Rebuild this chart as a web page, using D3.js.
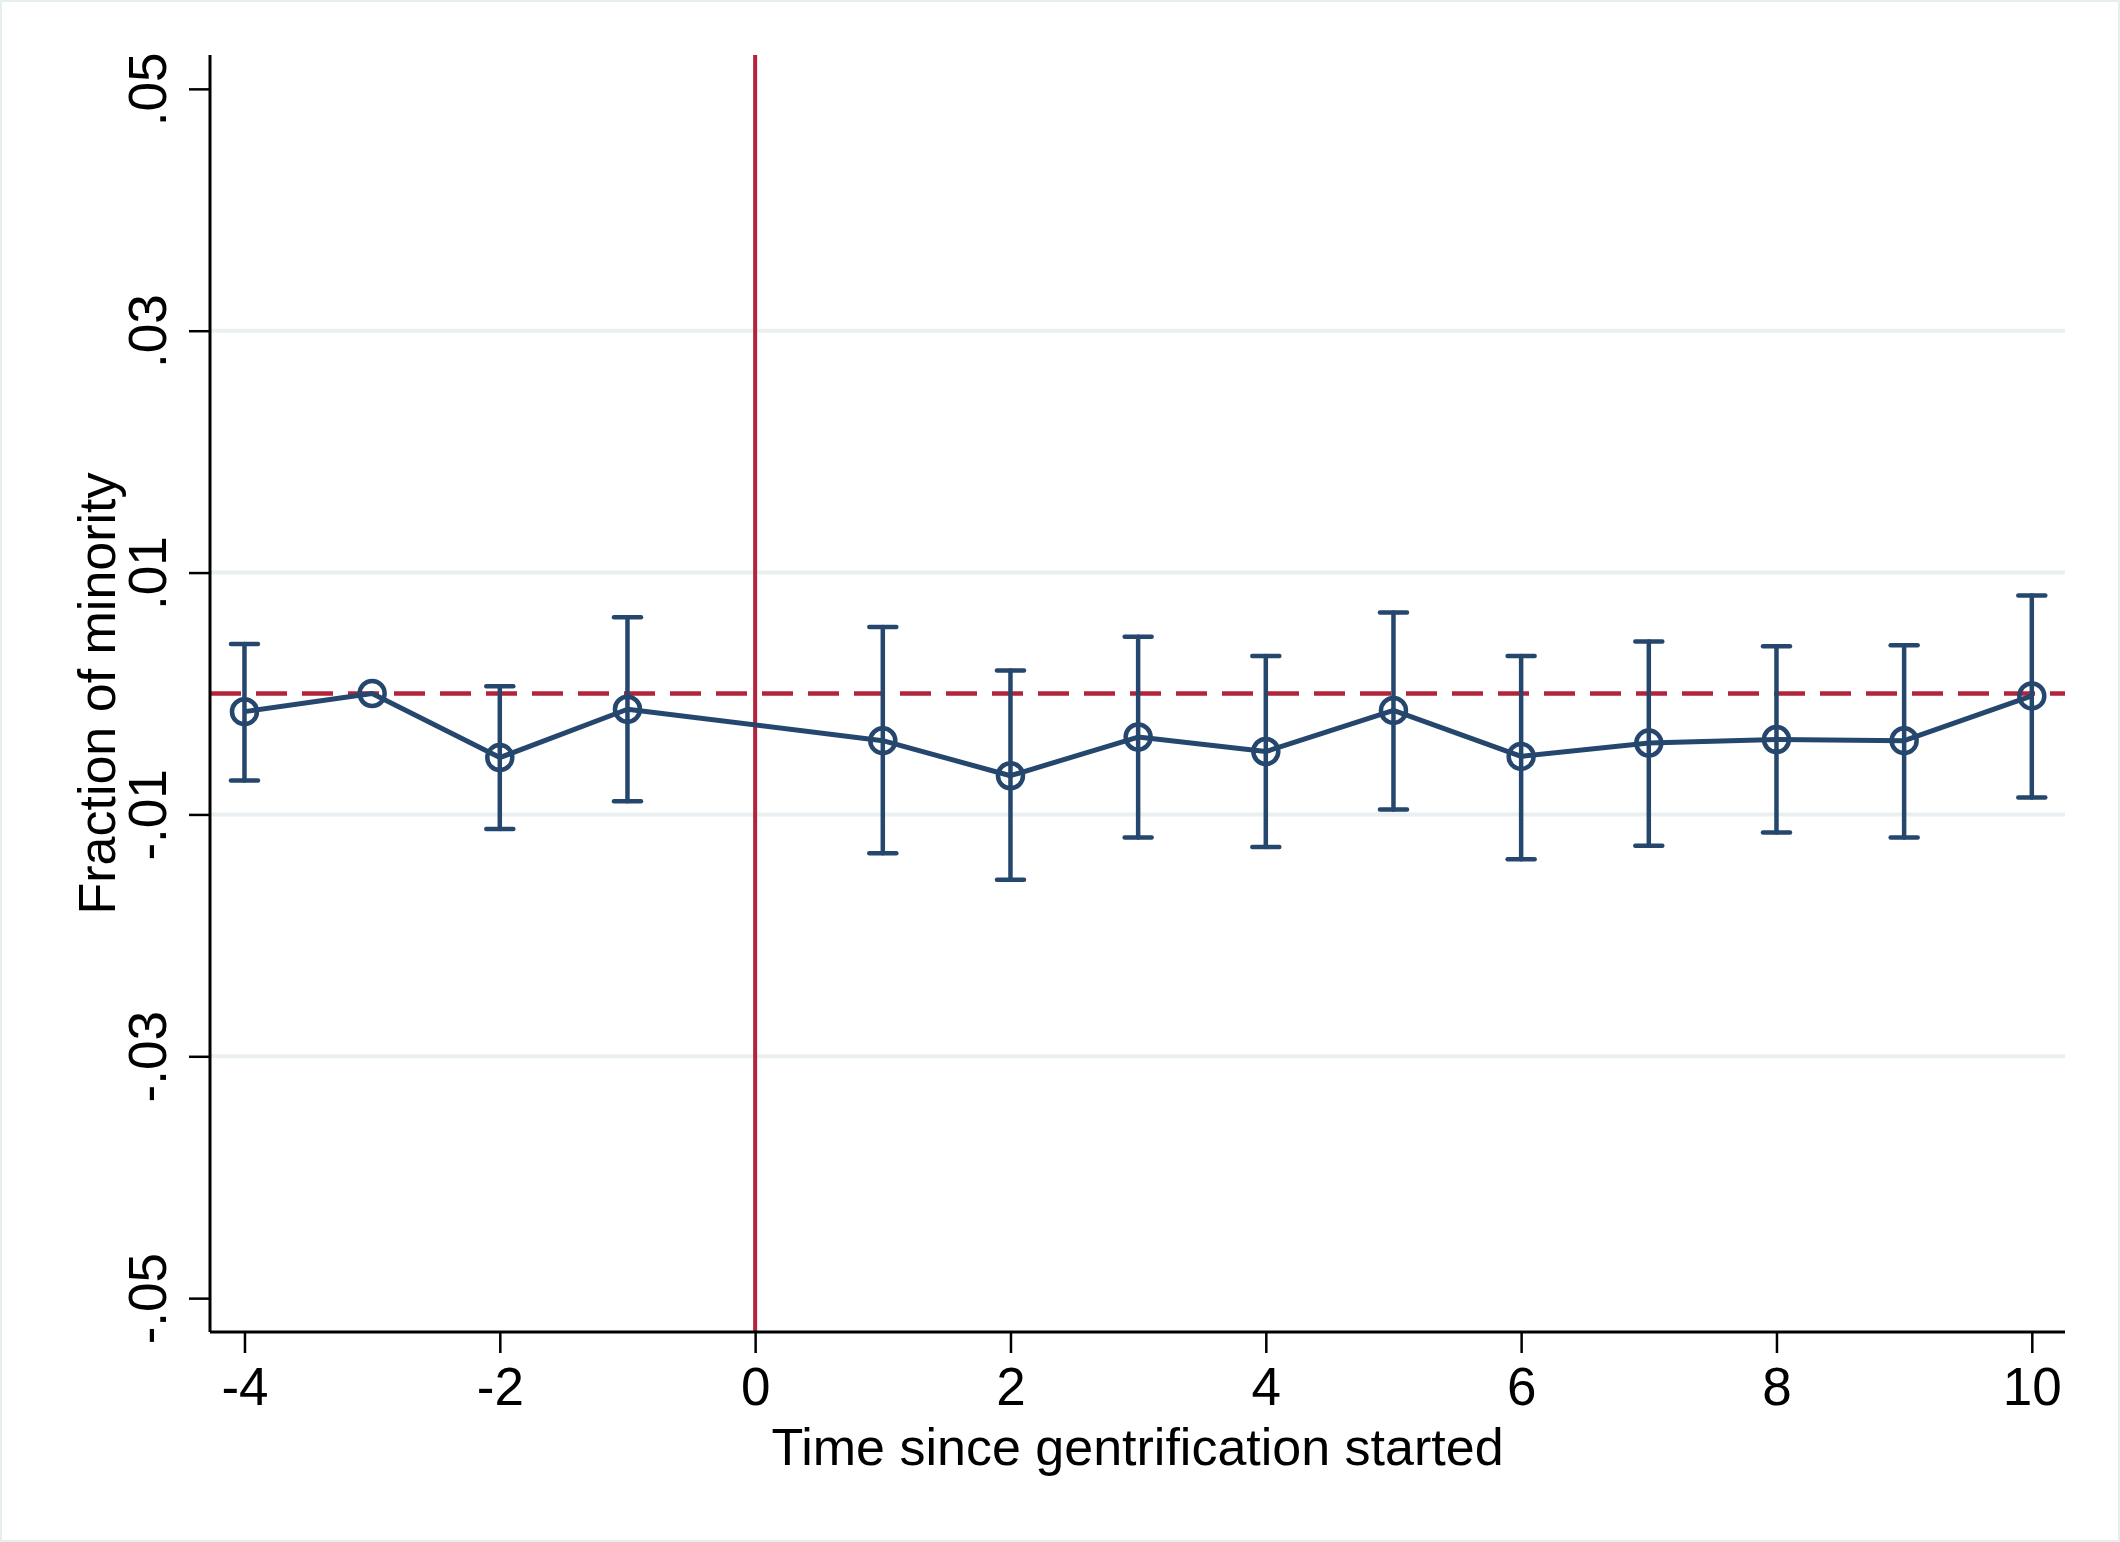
<!DOCTYPE html>
<html>
<head>
<meta charset="utf-8">
<script src="https://cdn.jsdelivr.net/npm/d3@7"></script>
<style>
  html, body { margin: 0; padding: 0; background: #fff; }
  svg { display: block; font-family: "Liberation Sans", Arial, Helvetica, sans-serif; }
</style>
</head>
<body>
<div id="chart"></div>
<script>
// Event-study estimates (period -3 is the omitted reference year)
const periods = [-4, -3, -2, -1, 1, 2, 3, 4, 5, 6, 7, 8, 9, 10];
const coefs   = [-0.0015, 0, -0.0053, -0.0013, -0.0039, -0.0068, -0.0036, -0.0048, -0.0014, -0.0052, -0.0041, -0.0038, -0.0039, -0.0002];
const ciHigh  = [0.0041, null, 0.0006, 0.0063, 0.0055, 0.0019, 0.0047, 0.0031, 0.0067, 0.0031, 0.0043, 0.0039, 0.0040, 0.0081];
const ciLow   = [-0.0072, null, -0.0112, -0.0089, -0.0132, -0.0154, -0.0119, -0.0127, -0.0096, -0.0137, -0.0126, -0.0115, -0.0119, -0.0086];

const xTicks = [-4, -2, 0, 2, 4, 6, 8, 10];
const yTicks = [0.05, 0.03, 0.01, -0.01, -0.03, -0.05];
const yGrid = [0.03, 0.01, -0.01, -0.03];

const xLabel = 'Time since gentrification started';
const yLabel = 'Fraction of minority';

const W = 2120, H = 1542;
const plot = { left: 210, right: 2065, top: 55, bottom: 1332 };

const navy = '#25466d';
const red = '#b3243a';
const gridColor = '#eaf0f1';
const font = '"Liberation Sans", Arial, Helvetica, sans-serif';

const svg = d3.select('#chart')
    .append('svg')
    .attr('width', W)
    .attr('height', H)
    .attr('viewBox', [0, 0, W, H]);

// Outer frame
svg.append('rect')
    .attr('x', 1).attr('y', 1)
    .attr('width', W - 2).attr('height', H - 2)
    .attr('fill', '#fff')
    .attr('stroke', '#e6eef0')
    .attr('stroke-width', 2);

const x = d3.scaleLinear().domain([-4.27, 10.26]).range([plot.left, plot.right]);
const y = d3.scaleLinear().domain([-0.0528, 0.0528]).range([plot.bottom, plot.top]);

// Stata-style labels with a plain hyphen: .05, -.01, -4
const fmtY = v => (v < 0 ? '-' : '') + Math.abs(v).toFixed(2).replace(/^0/, '');
const fmtX = v => (v < 0 ? '-' : '') + Math.abs(v);

// Gridlines
svg.append('g')
    .selectAll('line')
    .data(yGrid)
    .join('line')
    .attr('x1', plot.left)
    .attr('x2', plot.right)
    .attr('y1', d => y(d))
    .attr('y2', d => y(d))
    .attr('stroke', gridColor)
    .attr('stroke-width', 4);

// Reference lines
svg.append('line')
    .attr('x1', plot.left)
    .attr('x2', plot.right)
    .attr('y1', y(0))
    .attr('y2', y(0))
    .attr('stroke', red)
    .attr('stroke-width', 4.5)
    .attr('stroke-dasharray', '31,15');

svg.append('line')
    .attr('x1', x(0))
    .attr('x2', x(0))
    .attr('y1', plot.top)
    .attr('y2', plot.bottom)
    .attr('stroke', red)
    .attr('stroke-width', 4);

// Axes
const xAxis = svg.append('g')
    .attr('transform', `translate(0,${plot.bottom})`)
    .call(d3.axisBottom(x).tickValues(xTicks).tickSize(21).tickSizeOuter(0).tickFormat(fmtX));

xAxis.select('.domain')
    .attr('stroke', '#000')
    .attr('stroke-width', 3)
    .attr('d', `M${plot.left},0H${plot.right}`);
xAxis.selectAll('.tick line').attr('stroke', '#000').attr('stroke-width', 2.5);
xAxis.selectAll('.tick text')
    .attr('y', 73)
    .attr('dy', null)
    .attr('fill', '#000')
    .attr('font-size', 53)
    .attr('font-family', font);

const yAxis = svg.append('g')
    .attr('transform', `translate(${plot.left},0)`)
    .call(d3.axisLeft(y).tickValues(yTicks).tickSize(21).tickSizeOuter(0).tickFormat(fmtY));

yAxis.select('.domain')
    .attr('stroke', '#000')
    .attr('stroke-width', 3)
    .attr('d', `M0,${plot.top}V${plot.bottom}`);
yAxis.selectAll('.tick line').attr('stroke', '#000').attr('stroke-width', 2.5);
yAxis.selectAll('.tick text')
    .attr('x', null)
    .attr('dy', null)
    .attr('text-anchor', 'middle')
    .attr('transform', 'translate(-44,0) rotate(-90)')
    .attr('fill', '#000')
    .attr('font-size', 53)
    .attr('font-family', font);

// Axis titles
svg.append('text')
    .attr('x', (plot.left + plot.right) / 2)
    .attr('y', 1465)
    .attr('text-anchor', 'middle')
    .attr('font-size', 52)
    .attr('fill', '#000')
    .text(xLabel);

svg.append('text')
    .attr('transform', `translate(115,${(plot.top + plot.bottom) / 2}) rotate(-90)`)
    .attr('text-anchor', 'middle')
    .attr('font-size', 52)
    .attr('fill', '#000')
    .text(yLabel);

// Data
const data = periods.map((p, i) => ({ t: p, b: coefs[i], lo: ciLow[i], hi: ciHigh[i] }));
const withCI = data.filter(d => d.lo !== null && d.hi !== null);

const capHalf = 13.5;
const bars = svg.append('g')
    .attr('stroke', navy)
    .attr('stroke-width', 4.5)
    .attr('stroke-linecap', 'round');

bars.selectAll('line.stem')
    .data(withCI)
    .join('line')
    .attr('class', 'stem')
    .attr('x1', d => x(d.t)).attr('x2', d => x(d.t))
    .attr('y1', d => y(d.hi)).attr('y2', d => y(d.lo));

bars.selectAll('line.cap-hi')
    .data(withCI)
    .join('line')
    .attr('class', 'cap-hi')
    .attr('x1', d => x(d.t) - capHalf).attr('x2', d => x(d.t) + capHalf)
    .attr('y1', d => y(d.hi)).attr('y2', d => y(d.hi));

bars.selectAll('line.cap-lo')
    .data(withCI)
    .join('line')
    .attr('class', 'cap-lo')
    .attr('x1', d => x(d.t) - capHalf).attr('x2', d => x(d.t) + capHalf)
    .attr('y1', d => y(d.lo)).attr('y2', d => y(d.lo));

// Connected line
svg.append('path')
    .datum(data)
    .attr('fill', 'none')
    .attr('stroke', navy)
    .attr('stroke-width', 5)
    .attr('stroke-linejoin', 'round')
    .attr('d', d3.line().x(d => x(d.t)).y(d => y(d.b)));

// Hollow circle markers
svg.append('g')
    .selectAll('circle')
    .data(data)
    .join('circle')
    .attr('cx', d => x(d.t))
    .attr('cy', d => y(d.b))
    .attr('r', 12.5)
    .attr('fill', 'none')
    .attr('stroke', navy)
    .attr('stroke-width', 4.5);
</script>
</body>
</html>
